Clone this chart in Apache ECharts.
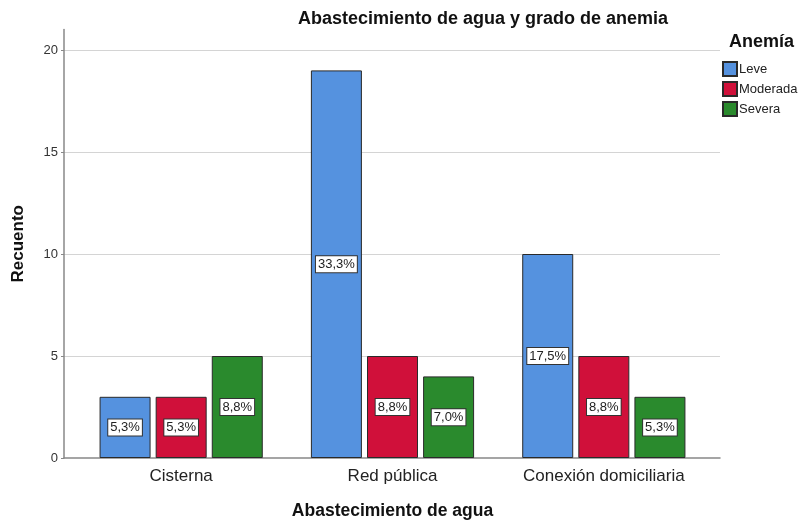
<!DOCTYPE html>
<html><head><meta charset="utf-8">
<script src="https://cdn.jsdelivr.net/npm/echarts@6/dist/echarts.min.js"></script>
<style>html,body{margin:0;padding:0;background:#fff}#c{width:807px;height:520px}</style>
</head><body><div id="c"></div>
<script>
const categories = ['Cisterna', 'Red pública', 'Conexión domiciliaria'];
const seriesNames = ['Leve', 'Moderada', 'Severa'];
const leve = [3, 19, 10];
const moderada = [3, 5, 5];
const severa = [5, 4, 3];
const leveLbl = ['5,3%', '33,3%', '17,5%'];
const moderadaLbl = ['5,3%', '8,8%', '8,8%'];
const severaLbl = ['8,8%', '7,0%', '5,3%'];
const yTicks = [0, 5, 10, 15, 20];
const colors = ['#5592DF', '#D0103A', '#2A8A2D'];

const FONT = 'Liberation Sans, Arial, sans-serif';
const chart = echarts.init(document.getElementById('c'));
const vals = [leve, moderada, severa];
const lbls = [leveLbl, moderadaLbl, severaLbl];
const TOP = 29.6, BOTTOM = 62, YMAX = 21;
chart.setOption({
  animation: false,
  textStyle: { fontFamily: FONT },
  title: {
    text: 'Abastecimiento de agua y grado de anemia',
    left: 478, top: 5, textAlign: 'center',
    textStyle: { fontSize: 18, fontWeight: 'bold', color: '#111', fontFamily: FONT }
  },
  graphic: [{
    type: 'text', left: 729, top: 33,
    style: { text: 'Anemía', font: 'bold 18px ' + FONT, fill: '#111' }
  }],
  legend: {
    orient: 'vertical', left: 717, top: 56, itemWidth: 14, itemHeight: 14, itemGap: 4,
    icon: 'rect',
    textStyle: { fontSize: 13, color: '#222', fontFamily: FONT, padding: [0, 0, 0, -3] },
    data: seriesNames
  },
  grid: [
    { left: 64, right: 87, top: TOP, bottom: BOTTOM, containLabel: false, outerBoundsMode: 'none' },
    { left: 75.5, right: 97.5, top: TOP, bottom: BOTTOM, containLabel: false, outerBoundsMode: 'none' }
  ],
  xAxis: [
    { gridIndex: 0, type: 'value', min: 0, max: 1, show: true,
      axisLine: { show: true, onZero: false, lineStyle: { color: '#888', width: 1.5 } },
      axisTick: { show: false }, axisLabel: { show: false }, splitLine: { show: false } },
    { gridIndex: 1, type: 'category', data: categories,
      axisLine: { show: false }, axisTick: { show: false },
      axisLabel: { fontSize: 17, color: '#222', margin: 10, fontFamily: FONT },
      name: 'Abastecimiento de agua', nameLocation: 'middle', nameGap: 44,
      nameTextStyle: { fontSize: 17.5, fontWeight: 'bold', color: '#111', fontFamily: FONT } }
  ],
  yAxis: [
    { gridIndex: 0, type: 'value', min: yTicks[0], max: YMAX, interval: 5,
      axisLine: { show: true, lineStyle: { color: '#888', width: 1.5 } },
      axisTick: { show: true, length: 3, lineStyle: { color: '#888' } },
      axisLabel: { fontSize: 13, color: '#333', showMaxLabel: false, margin: 6, fontFamily: FONT },
      splitLine: { show: true, showMaxLine: false, showMinLine: false, lineStyle: { color: '#d4d4d4', width: 1 } },
      name: 'Recuento', nameLocation: 'middle', nameGap: 37, nameRotate: 90,
      nameTextStyle: { fontSize: 17, fontWeight: 'bold', color: '#111', fontFamily: FONT } },
    { gridIndex: 1, type: 'value', min: 0, max: YMAX, show: false, splitLine: { show: false } }
  ],
  series: seriesNames.map((n, i) => ({
    name: n, type: 'bar', xAxisIndex: 1, yAxisIndex: 1,
    data: vals[i], barWidth: 51, barGap: '10%',
    itemStyle: { color: colors[i], borderColor: '#2a2a2a', borderWidth: 1 },
    label: {
      show: true, position: 'inside',
      formatter: p => lbls[i][p.dataIndex],
      backgroundColor: '#fff', borderColor: '#333', borderWidth: 1,
      padding: [2, 2, 1, 2], color: '#222', fontSize: 13, fontFamily: FONT
    }
  }))
});
</script></body></html>
